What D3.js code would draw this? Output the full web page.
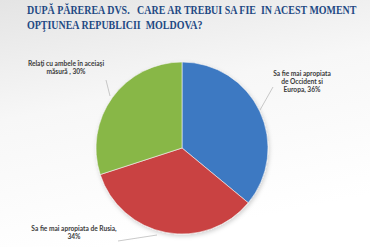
<!DOCTYPE html>
<html>
<head>
<meta charset="utf-8">
<script src="https://cdn.jsdelivr.net/npm/d3@7"></script>
<style>
  body { margin: 0; padding: 0; overflow: hidden; }
</style>
</head>
<body>
<div id="chart"></div>
<script>
// data
var categories = ["Sa fie mai apropiata de Occident si Europa", "Sa fie mai apropiata de Rusia", "Relaţi cu ambele în aceiaşi măsură"];
var values = [36, 34, 30];
var colors = ["#4282d0", "#d84848", "#92c44c"];
var labelLines = [
  ["Sa fie mai apropiata", "de Occident si", "Europa, 36%"],
  ["Sa fie mai apropiata de Rusia,", "34%"],
  ["Relaţi cu ambele în aceiaşi", "măsură , 30%"]
];
var titleLines = ["DUPĂ PĂREREA DVS.   CARE AR TREBUI SA FIE  IN ACEST MOMENT", "OPŢIUNEA REPUBLICII  MOLDOVA?"];

var width = 370, height = 247;
var cx = 182, cy = 148, radius = 86;

var svg = d3.select("#chart").append("svg")
  .attr("width", width)
  .attr("height", height)
  .attr("viewBox", "0 0 " + width + " " + height);

var defs = svg.append("defs");

// background: grey at the top fading to white
var bg = defs.append("linearGradient")
  .attr("id", "bgGrad")
  .attr("x1", 0).attr("y1", 0).attr("x2", 0.3).attr("y2", 1);
bg.append("stop").attr("offset", "0%").attr("stop-color", "#e4e4e4");
bg.append("stop").attr("offset", "45%").attr("stop-color", "#f7f7f7");
bg.append("stop").attr("offset", "100%").attr("stop-color", "#ffffff");

svg.append("rect")
  .attr("width", width)
  .attr("height", height)
  .attr("fill", "url(#bgGrad)");

// slice shading, only a thin darker rim
colors.forEach(function(c, i) {
  var g = defs.append("radialGradient")
    .attr("id", "slice" + i)
    .attr("gradientUnits", "userSpaceOnUse")
    .attr("cx", cx).attr("cy", cy).attr("r", radius);
  g.append("stop").attr("offset", "0%").attr("stop-color", c);
  g.append("stop").attr("offset", "95%").attr("stop-color", c);
  g.append("stop").attr("offset", "100%").attr("stop-color", d3.color(c).darker(0.2));
});

var shadow = defs.append("filter").attr("id", "shadow")
  .attr("x", "-20%").attr("y", "-20%").attr("width", "140%").attr("height", "140%");
shadow.append("feDropShadow")
  .attr("dx", 1).attr("dy", 2).attr("stdDeviation", 2)
  .attr("flood-color", "#000").attr("flood-opacity", 0.18);

// title, squeezed horizontally to the width of the original (Cambria is narrower)
var title = svg.append("g")
  .attr("font-family", "Liberation Serif, DejaVu Serif, serif")
  .attr("font-weight", "bold")
  .attr("font-size", "12px")
  .attr("fill", "#1f4a84");
var titleText = titleLines.map(function(t, i) {
  return title.append("text")
    .attr("x", 0)
    .attr("y", 14 + i * 15.5)
    .style("white-space", "pre")
    .text(t);
});
var natural = titleText[0].node().getComputedTextLength();
var sx = 330 / natural;
title.attr("transform", "translate(27,0) scale(" + sx + ",1)");

// pie
var pie = d3.pie().sort(null).value(function(d) { return d; });
var arc = d3.arc().innerRadius(0).outerRadius(radius);
var arcs = pie(values);

var g = svg.append("g")
  .attr("transform", "translate(" + cx + "," + cy + ")");

g.append("g")
  .attr("filter", "url(#shadow)")
  .selectAll("path")
  .data(arcs)
  .enter().append("path")
  .attr("d", arc)
  .attr("fill", function(d, i) { return "url(#slice" + i + ")"; })
  .attr("stroke", "#f4f4f4")
  .attr("stroke-width", 0.6);

// labels and leader lines
var labelPos = [
  { x: 302, y: 76, from: [273, 87], to: [260, 110] },
  { x: 74, y: 231, from: [118, 241], to: [157, 235] },
  { x: 66, y: 66, from: [106, 80], to: [110, 96] }
];

var labels = svg.append("g")
  .attr("font-family", "Lato, Open Sans, sans-serif")
  .attr("font-weight", "bold")
  .attr("font-size", "6.6px")
  .attr("fill", "#3a3a3a")
  .attr("text-anchor", "middle");

labelLines.forEach(function(lines, i) {
  var p = labelPos[i];
  var t = labels.append("text");
  lines.forEach(function(l, j) {
    t.append("tspan")
      .attr("x", p.x)
      .attr("y", p.y + j * 8)
      .text(l);
  });
  svg.append("line")
    .attr("x1", p.from[0]).attr("y1", p.from[1])
    .attr("x2", p.to[0]).attr("y2", p.to[1])
    .attr("stroke", "#a6a6a6")
    .attr("stroke-width", 0.6);
});
</script>
</body>
</html>
